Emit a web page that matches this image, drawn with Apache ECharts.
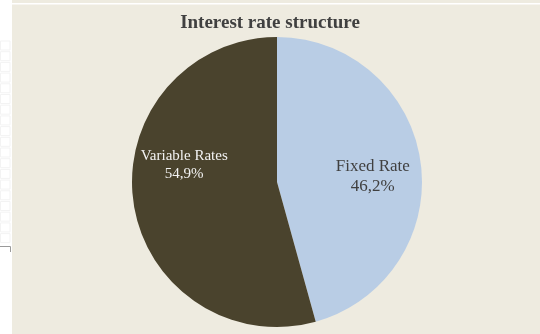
<!DOCTYPE html>
<html>
<head>
<meta charset="utf-8">
<script src="https://cdn.jsdelivr.net/npm/echarts@6/dist/echarts.min.js"></script>
<style>
  html, body { margin: 0; padding: 0; background: #fff; }
  #chart { width: 540px; height: 334px; }
</style>
</head>
<body>
<div id="chart"></div>
<script>
// data (labels in the source add up to 101,1%)
var categories = ['Fixed Rate', 'Variable Rates'];
var values = [46.2, 54.9];
var colors = ['#b9cde5', '#4a432d'];
var labelColors = ['#404040', '#f2f2f2'];

var myChart = echarts.init(document.getElementById('chart'));

// left margin strip with the little boxes
var decor = [
	{ type: 'rect', shape: { x: 0, y: 0, width: 12, height: 334 }, style: { fill: '#ffffff' }, silent: true },
	{ type: 'rect', shape: { x: 12, y: 3, width: 528, height: 1.5 }, style: { fill: '#ffffff' }, silent: true },
	{ type: 'polyline', shape: { points: [[0, 246.5], [10.5, 246.5], [10.5, 252]] }, style: { stroke: '#9a9a9a', lineWidth: 1, fill: null }, silent: true }
];
for (var y = 41; y < 240; y += 10.7) {
	decor.push({ type: 'rect', shape: { x: 0.5, y: y, width: 9.5, height: 9 }, style: { fill: '#ffffff', stroke: '#f3f3f3', lineWidth: 1 }, silent: true });
}

var labelOffsets = [[21, 5], [-18, -27]];
var labelSizes = [17, 15];

var option = {
	backgroundColor: '#eeebe0',
	animation: false,
	title: {
		text: 'Interest rate structure',
		left: 'center',
		top: 9,
		textStyle: {
			fontFamily: 'Liberation Serif',
			fontWeight: 'bold',
			fontSize: 19,
			color: '#404040'
		}
	},
	graphic: decor,
	series: [
		{
			type: 'pie',
			center: [277, 182],
			radius: [0, 145],
			startAngle: 90,
			clockwise: true,
			label: {
				show: true,
				position: 'inside',
				fontFamily: 'Liberation Serif',
				formatter: function (p) {
					return p.name + '\n' + p.value.toFixed(1).replace('.', ',') + '%';
				}
			},
			labelLine: { show: false },
			emphasis: { disabled: true },
			data: categories.map(function (name, i) {
				return {
					name: name,
					value: values[i],
					itemStyle: { color: colors[i] },
					label: {
						color: labelColors[i],
						fontSize: labelSizes[i],
						lineHeight: labelSizes[i] + 3,
						offset: labelOffsets[i]
					}
				};
			})
		}
	]
};
myChart.setOption(option);
</script>
</body>
</html>
